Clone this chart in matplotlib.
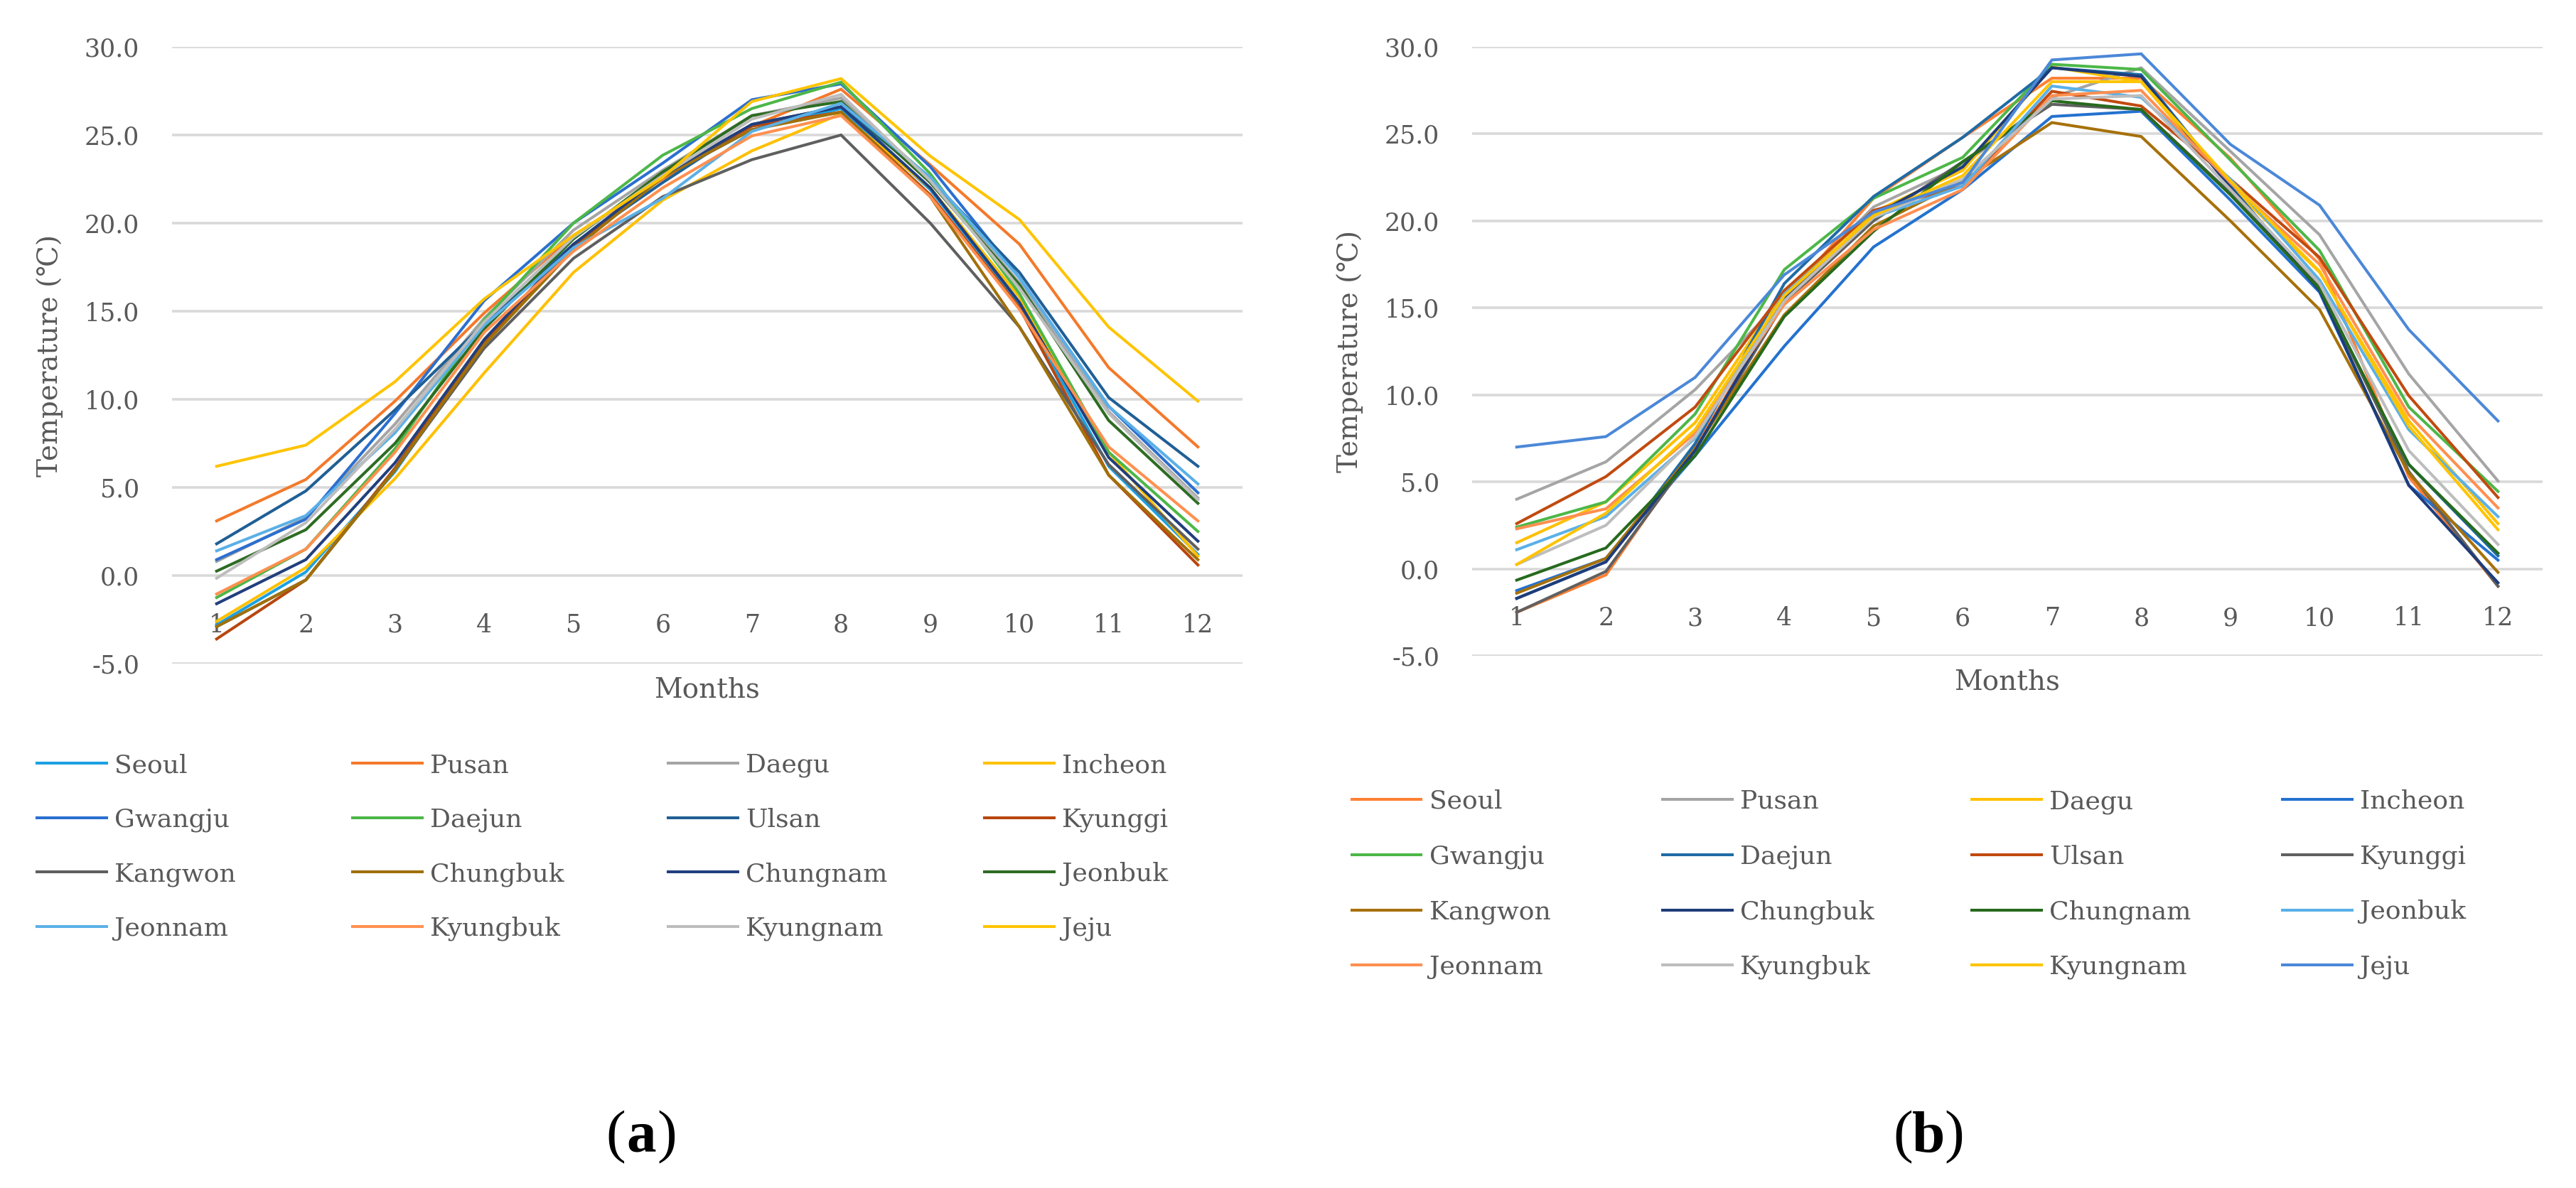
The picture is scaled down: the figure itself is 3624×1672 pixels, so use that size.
import numpy as np
import matplotlib
matplotlib.use("Agg")
import matplotlib.pyplot as plt

# data ------------------------------------------------------------------
months = list(range(1, 13))
month_labels = [str(m) for m in months]
yticks = [-5, 0, 5, 10, 15, 20, 25, 30]
ytick_labels = ["-5.0", "0.0", "5.0", "10.0", "15.0", "20.0", "25.0", "30.0"]

regions_a = ["Seoul", "Pusan", "Daegu", "Incheon", "Gwangju", "Daejun", "Ulsan", "Kyunggi",
             "Kangwon", "Chungbuk", "Chungnam", "Jeonbuk", "Jeonnam", "Kyungbuk", "Kyungnam", "Jeju"]
regions_b = list(regions_a)

temps_a = {
    "Seoul":    [-2.8, 0.2, 5.9, 13.2, 18.6, 22.6, 25.3, 26.5, 21.9, 15.4, 6.2, 1.2],
    "Pusan":    [3.1, 5.45, 9.9, 14.9, 19.3, 22.5, 25.5, 27.6, 23.3, 18.8, 11.8, 7.3],
    "Daegu":    [0.8, 3.3, 8.6, 14.6, 19.6, 23.0, 26.1, 27.1, 22.5, 16.6, 9.3, 4.4],
    "Incheon":  [-2.6, 0.45, 5.5, 11.5, 17.2, 21.3, 24.1, 26.2, 22.0, 15.8, 7.0, 1.1],
    "Gwangju":  [0.9, 3.2, 9.2, 15.6, 20.0, 23.4, 27.0, 27.9, 23.2, 16.9, 9.6, 4.7],
    "Daejun":   [-1.25, 1.5, 7.2, 14.5, 20.0, 23.85, 26.5, 28.0, 22.8, 16.0, 7.0, 2.5],
    "Ulsan":    [1.8, 4.8, 9.4, 14.3, 18.8, 22.3, 25.6, 26.6, 22.5, 17.2, 10.1, 6.2],
    "Kyunggi":  [-3.6, -0.25, 6.1, 13.3, 18.7, 22.8, 25.5, 26.3, 21.6, 15.2, 5.7, 0.6],
    "Kangwon":  [-2.9, -0.25, 6.0, 12.9, 18.0, 21.5, 23.6, 25.0, 20.0, 14.1, 6.3, 1.5],
    "Chungbuk": [-2.9, -0.25, 6.0, 13.1, 18.5, 22.6, 25.3, 26.3, 21.5, 14.1, 5.7, 0.9],
    "Chungnam": [-1.6, 0.9, 6.4, 13.4, 18.8, 22.7, 25.6, 26.6, 22.0, 15.5, 6.7, 1.95],
    "Jeonbuk":  [0.25, 2.6, 7.5, 14.0, 19.1, 22.9, 26.1, 26.9, 22.3, 16.5, 8.8, 4.1],
    "Jeonnam":  [1.4, 3.4, 8.1, 14.2, 18.6, 21.4, 25.2, 26.8, 22.6, 16.9, 9.6, 5.2],
    "Kyungbuk": [-1.05, 1.5, 7.0, 13.8, 18.4, 22.0, 24.95, 26.1, 21.5, 15.1, 7.3, 3.1],
    "Kyungnam": [-0.15, 3.0, 8.3, 14.4, 19.2, 22.7, 25.9, 27.3, 22.4, 16.3, 9.2, 4.3],
    "Jeju":     [6.2, 7.4, 11.0, 15.7, 19.3, 22.6, 26.9, 28.2, 23.8, 20.2, 14.1, 9.9],
}

temps_b = {
    "Seoul":    [-2.5, -0.35, 7.0, 15.5, 21.3, 24.8, 28.2, 28.2, 23.6, 17.8, 5.3, -1.0],
    "Pusan":    [4.0, 6.15, 10.3, 15.6, 20.8, 23.2, 27.1, 28.8, 24.0, 19.2, 11.2, 5.05],
    "Daegu":    [1.5, 3.85, 8.4, 16.0, 20.5, 22.9, 28.85, 28.0, 22.0, 17.05, 8.5, 2.6],
    "Incheon":  [-1.25, 0.6, 6.5, 12.8, 18.5, 21.8, 26.0, 26.3, 21.2, 15.9, 4.8, 0.5],
    "Gwangju":  [2.4, 3.85, 8.9, 17.2, 21.3, 23.65, 29.0, 28.7, 23.5, 18.3, 9.3, 4.45],
    "Daejun":   [-1.7, 0.4, 7.2, 16.4, 21.4, 24.8, 28.8, 28.4, 22.0, 16.0, 6.0, 0.75],
    "Ulsan":    [2.6, 5.3, 9.3, 16.0, 20.6, 22.0, 27.45, 26.6, 22.4, 17.9, 9.95, 4.1],
    "Kyunggi":  [-2.5, -0.15, 6.8, 15.3, 20.0, 23.4, 26.7, 26.4, 21.6, 16.2, 5.6, -1.0],
    "Kangwon":  [-1.4, 0.6, 6.9, 14.6, 19.7, 22.3, 25.65, 24.85, 20.0, 14.9, 5.5, -0.2],
    "Chungbuk": [-1.7, 0.4, 6.8, 15.6, 20.3, 23.1, 28.8, 28.3, 21.9, 16.0, 4.8, -0.8],
    "Chungnam": [-0.65, 1.2, 6.5, 14.5, 19.4, 23.4, 26.9, 26.4, 21.5, 16.1, 6.0, 0.9],
    "Jeonbuk":  [1.1, 3.0, 7.5, 15.8, 20.2, 22.0, 27.75, 27.1, 22.4, 16.6, 8.0, 3.0],
    "Jeonnam":  [2.3, 3.45, 7.8, 15.2, 19.5, 21.8, 27.2, 27.5, 22.2, 17.5, 8.85, 3.5],
    "Kyungbuk": [0.25, 2.5, 7.6, 15.4, 20.2, 22.4, 27.0, 27.2, 21.8, 16.4, 6.8, 1.4],
    "Kyungnam": [0.25, 3.2, 8.0, 15.7, 20.3, 22.6, 28.0, 28.0, 22.3, 17.1, 8.2, 2.25],
    "Jeju":     [7.0, 7.6, 11.0, 16.9, 20.5, 22.2, 29.25, 29.6, 24.4, 20.9, 13.75, 8.5],
}

colors_a = ["#1BA1E2", "#F5792A", "#A5A5A5", "#FFC000", "#2B70D0", "#4DB848", "#1F5F96", "#B7470F",
            "#5F5F5F", "#A0700A", "#203F7C", "#2E6B23", "#5BB0E8", "#FF9050", "#BDBDBD", "#FFC400"]
colors_b = ["#FF7F33", "#A5A5A5", "#FFC000", "#2472D0", "#4DB848", "#1F6BA5", "#C04A10", "#606060",
            "#A6700A", "#1F3C7A", "#266A1E", "#5BB0E8", "#FF8F50", "#BDBDBD", "#FFC400", "#4C88D8"]

# figure ------------------------------------------------------------------
W, H = 3624, 1672
fig = plt.figure(figsize=(W / 100, H / 100), dpi=100)
plt.rcParams["axes.unicode_minus"] = False
txt = "#595959"
fam = ["DejaVu Serif", "DejaVu Sans"]


def px_box(x0, y0, x1, y1):
    return [x0 / W, 1 - y1 / H, (x1 - x0) / W, (y1 - y0) / H]


def draw_panel(rect, regions, temps, colors, leg_x, leg_top, leg_space):
    ax = fig.add_axes(rect)
    lines = []
    for name, c in zip(regions, colors):
        ln, = ax.plot(months, temps[name], color=c, lw=2.9, solid_joinstyle="miter")
        lines.append(ln)
    ax.set_xlim(0.5, 12.5)
    ax.set_ylim(-5, 30)
    ax.set_yticks(yticks)
    ax.set_yticklabels(ytick_labels)
    ax.set_xticks(months)
    ax.set_xticklabels(month_labels)
    ax.spines["bottom"].set_position(("data", 0))
    for s in ax.spines.values():
        s.set_visible(False)
    ax.tick_params(axis="y", length=0, pad=33, labelsize=25, labelcolor=txt)
    ax.tick_params(axis="x", length=0, pad=38, labelsize=25, labelcolor=txt)
    for lab in ax.get_xticklabels() + ax.get_yticklabels():
        lab.set_family(fam)
    ax.grid(axis="y", color="#D9D9D9", lw=2.6)
    ax.set_axisbelow(True)
    ax.set_ylabel("Temperature (\u2103)", fontsize=28, color=txt, family=fam)
    ax.yaxis.set_label_coords(-0.1145, 0.5)
    ax.yaxis.label.set_va("center")
    ax.set_xlabel("Months", fontsize=28, color=txt, family=fam)
    ax.xaxis.set_label_coords(0.5, -0.043)
    ax.xaxis.label.set_va("center")

    # legend: 4 columns, row-major order like the original
    for c in range(4):
        idx = [r * 4 + c for r in range(4)]
        fig.legend([lines[i] for i in idx], [regions[i] for i in idx],
                   loc="upper left", bbox_to_anchor=(leg_x[c] / W, 1 - leg_top / H),
                   frameon=False, borderpad=0, borderaxespad=0, handlelength=2.7,
                   handletextpad=0.33, labelspacing=leg_space, labelcolor=txt,
                   prop={"family": fam, "size": 26})
    return ax


ax_a = draw_panel(px_box(242, 66, 1748, 934), regions_a, temps_a, colors_a,
                  [52, 496, 940, 1385], 1060, 1.17)
ax_b = draw_panel(px_box(2071, 66, 3577, 923), regions_b, temps_b, colors_b,
                  [1902, 2339, 2774, 3211], 1111, 1.2)

# captions (a) / (b)
for cx, letter in [(902, "a"), (2713, "b")]:
    cy = 1 - 1601 / H
    half = 22
    fig.text((cx - half) / W, cy, "(", ha="right", va="center", fontsize=60,
             family="Liberation Serif", color="black")
    fig.text(cx / W, cy, letter, ha="center", va="center", fontsize=60,
             family="Liberation Serif", fontweight="bold", color="black")
    fig.text((cx + half) / W, cy, ")", ha="left", va="center", fontsize=60,
             family="Liberation Serif", color="black")

fig.savefig("out.png", dpi=100, facecolor="white")
